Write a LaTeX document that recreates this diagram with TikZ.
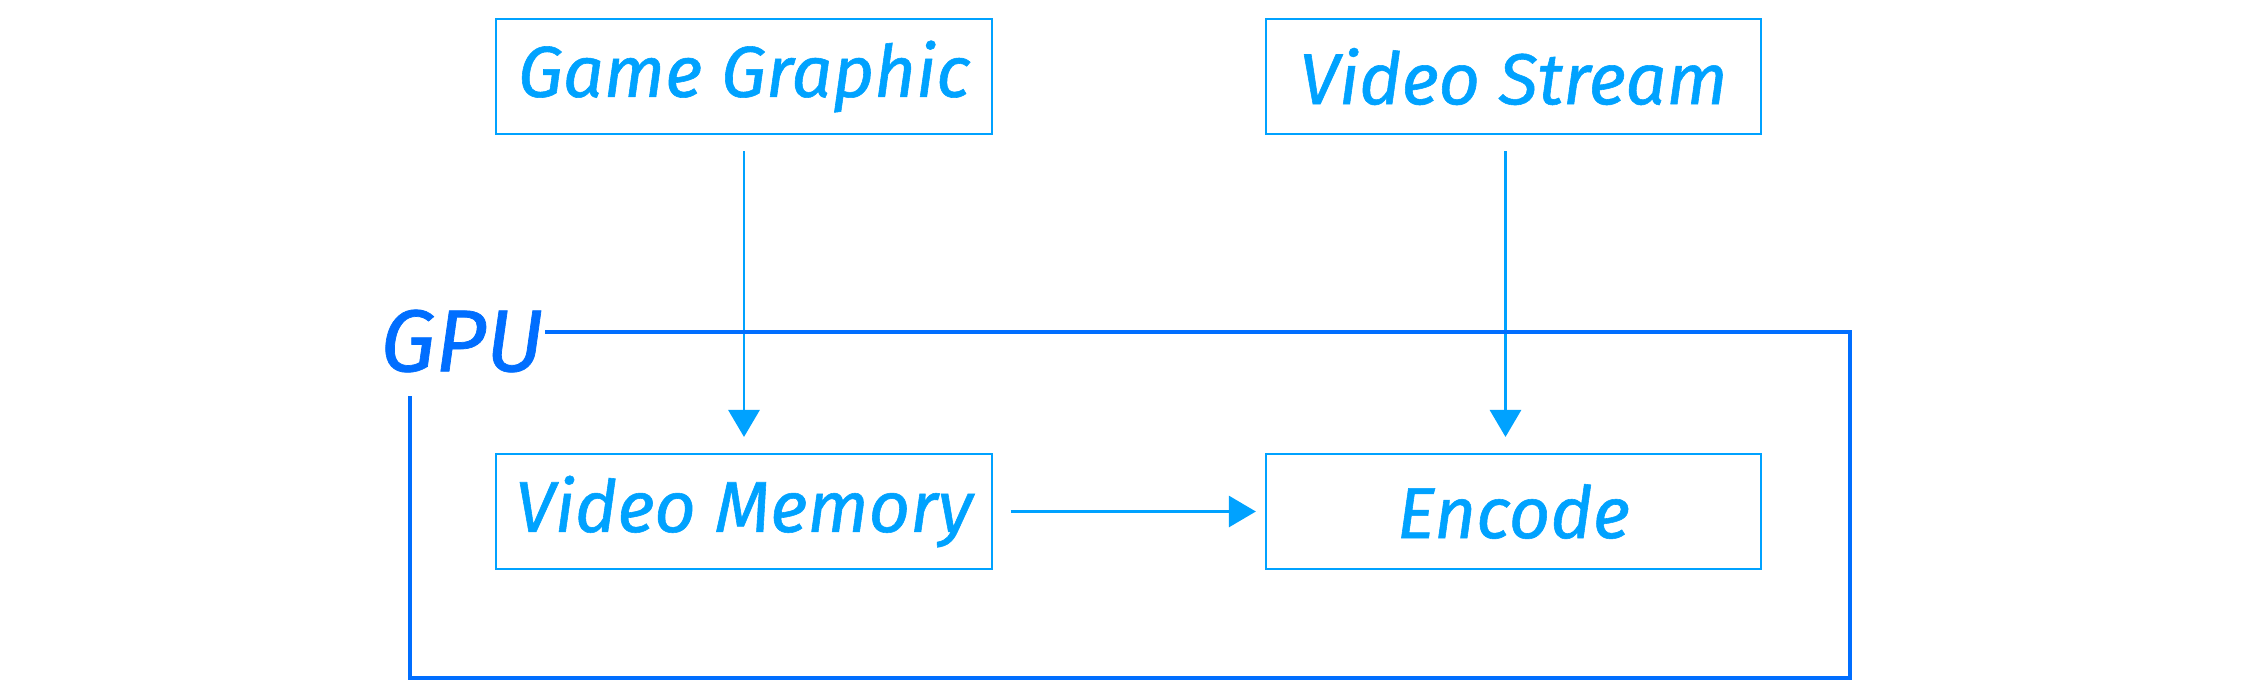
\documentclass[tikz,border=0pt]{standalone}
\usepackage{fontspec}
\setmainfont{Fira Sans}
\newfontfamily\diafont{Fira Sans}[FakeBold=0.8]
\usetikzlibrary{arrows.meta,positioning}
\definecolor{boxblue}{RGB}{0,162,255}
\definecolor{gpublue}{RGB}{0,110,255}
\tikzset{
  unit/.style={rectangle,draw=boxblue,line width=0.57pt,minimum width=4.95cm,
    minimum height=1.15cm,inner sep=0pt,text=boxblue,
    font=\diafont\fontsize{20.5}{24}\selectfont\itshape},
  arr/.style={-{Triangle[length=0.27cm,width=0.31cm]},line width=0.85pt,color=boxblue},
  gpuline/.style={line width=1.14pt,color=gpublue}
}
\begin{document}
\begin{tikzpicture}[x=0.01cm,y=-0.01cm]
    \useasboundingbox (0,0) rectangle (2250,699);
    % Inputs
    \node[unit] (game) at (744,76.5) {Game Graphic};
    \node[unit] (stream) at (1513.5,76.5) {Video Stream};
    
    % GPU side
    \node[unit] (vmem) at (744,511.5) {Video Memory};
    \node[unit] (enc) at (1513.5,511.5) {Encode};
    
    \draw[arr] ([yshift=-0.16cm]game.south) -- ([yshift=0.16cm]vmem.north);
    \draw[arr] ([xshift=-0.08cm,yshift=-0.16cm]stream.south) -- ([xshift=-0.08cm,yshift=0.16cm]enc.north);
    \draw[arr] ([xshift=0.18cm]vmem.east) -- ([xshift=-0.09cm]enc.west);
    
    % GPU frame
    \node[inner sep=0pt,text=gpublue,font=\diafont\fontsize{25}{30}\selectfont\itshape] (gpu) at (462,341) {GPU};
    \coordinate (gpuTL) at (545,332);
    \coordinate (gpuTR) at (1850,332);
    \coordinate (gpuBR) at (1850,678);
    \coordinate (gpuBL) at (410,678);
    \coordinate (gpuL) at (410,396);
    \draw[gpuline] (gpuTL) -- (gpuTR) -- (gpuBR) -- (gpuBL) -- (gpuL);
    
  \end{tikzpicture}
\end{document}
